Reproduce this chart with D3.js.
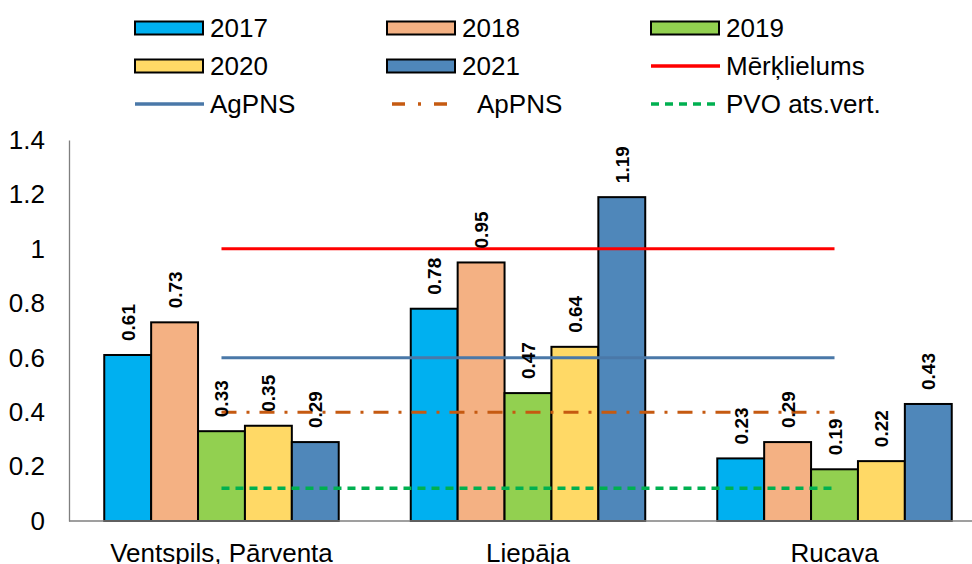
<!DOCTYPE html>
<html><head><meta charset="utf-8">
<script src="https://cdn.jsdelivr.net/npm/d3@7"></script>
<style>body{margin:0;background:#fff}svg{display:block}text{font-family:Arial,"Liberation Sans",sans-serif}</style>
</head><body><svg id="c" width="972" height="564"></svg>
<script>
const categories = ["Ventspils, Pārventa", "Liepāja", "Rucava"];
const years = ["2017", "2018", "2019", "2020", "2021"];
const v2017 = [0.61, 0.78, 0.23];
const v2018 = [0.73, 0.95, 0.29];
const v2019 = [0.33, 0.47, 0.19];
const v2020 = [0.35, 0.64, 0.22];
const v2021 = [0.29, 1.19, 0.43];
const seriesValues = [v2017, v2018, v2019, v2020, v2021];
const refNames = ["Mērķlielums", "AgPNS", "ApPNS", "PVO ats.vert."];
const refValues = [1, 0.6, 0.4, 0.12];
const yTicks = [0, 0.2, 0.4, 0.6, 0.8, 1, 1.2, 1.4];

const barColors = ["#00B0F0", "#F4B183", "#92D050", "#FFD966", "#4F87BA"];
const refStyles = [
  {color: "#FF0000", dash: null, w: 3},
  {color: "#4A78A8", dash: null, w: 3},
  {color: "#C55A11", dash: "15,10,3,10", w: 3},
  {color: "#00B050", dash: "8,6", w: 3.5}
];

const svg = d3.select("#c");
const y = d3.scaleLinear().domain([0, 1.4]).range([521, 140]);
const x0 = d3.scaleBand().domain(categories).range([69, 987]).paddingInner(0.235).paddingOuter(0.115);
const x1 = d3.scaleBand().domain(years).range([0, x0.bandwidth()]);

// y axis
const yAxis = d3.axisLeft(y).tickValues(yTicks).tickSize(0).tickPadding(24).tickFormat(d3.format("~g"));
const ga = svg.append("g").attr("transform", "translate(69,0)").call(yAxis);
ga.select(".domain").attr("stroke", "#7f7f7f").attr("stroke-width", 1.3);
ga.selectAll("text").attr("font-size", 26).attr("fill", "#000");

// bars
years.forEach((yr, i) => {
  const g = svg.append("g");
  g.selectAll("rect").data(categories).join("rect")
    .attr("x", (c) => x0(c) + x1(yr))
    .attr("y", (c, j) => y(seriesValues[i][j]))
    .attr("width", x1.bandwidth())
    .attr("height", (c, j) => y(0) - y(seriesValues[i][j]))
    .attr("fill", barColors[i]).attr("stroke", "#000").attr("stroke-width", 2);
});

// x axis line
const xAxis = d3.axisBottom(x0).tickSize(0).tickPadding(23);
const gx = svg.append("g").attr("transform", "translate(0,521)").call(xAxis);
gx.select(".domain").attr("d", "M69,0H972").attr("stroke", "#7f7f7f").attr("stroke-width", 1.3);
gx.selectAll("text").attr("font-size", 26).attr("fill", "#000");

// reference lines from center of first group to center of last group
const xs = x0(categories[0]) + x0.bandwidth() / 2;
const xe = x0(categories[2]) + x0.bandwidth() / 2;
refValues.forEach((v, i) => {
  const s = refStyles[i];
  svg.append("line").attr("x1", xs).attr("x2", xe).attr("y1", y(v)).attr("y2", y(v))
    .attr("stroke", s.color).attr("stroke-width", s.w).attr("stroke-dasharray", s.dash);
});

// bar labels
years.forEach((yr, i) => {
  categories.forEach((c, j) => {
    const v = seriesValues[i][j];
    const cx = x0(c) + x1(yr) + x1.bandwidth() / 2;
    svg.append("text").attr("transform", `translate(${cx + 7},${y(v) - 14}) rotate(-90)`)
      .attr("font-size", 19).attr("font-weight", "bold").attr("fill", "#000")
      .text(d3.format(".2f")(v));
  });
});

// legend
const legendItems = [];
years.forEach((yr, i) => legendItems.push({name: yr, type: "bar", color: barColors[i]}));
refNames.forEach((n, i) => legendItems.push({name: n, type: "line", style: refStyles[i]}));
const colX = [135, 387, 651];
const rowY = [28, 66, 104];
legendItems.forEach((it, k) => {
  const cx = colX[k % 3], cy = rowY[Math.floor(k / 3)];
  if (it.type === "bar") {
    svg.append("rect").attr("x", cx).attr("y", cy - 6.5).attr("width", 68).attr("height", 13)
      .attr("fill", it.color).attr("stroke", "#000").attr("stroke-width", 2);
  } else {
    const ld = it.style.dash === "15,10,3,10" ? "13,13,3,13" : it.style.dash;
    svg.append("line").attr("x1", cx + (ld === "13,13,3,13" ? 5 : 0)).attr("x2", cx + 69).attr("y1", cy).attr("y2", cy)
      .attr("stroke", it.style.color).attr("stroke-width", 3.5).attr("stroke-dasharray", ld);
  }
  const extra = it.name === "ApPNS" ? 15 : 0;
  svg.append("text").attr("x", cx + 75 + extra).attr("y", cy + 9).attr("font-size", 26).attr("fill", "#000").text(it.name);
});
</script></body></html>
